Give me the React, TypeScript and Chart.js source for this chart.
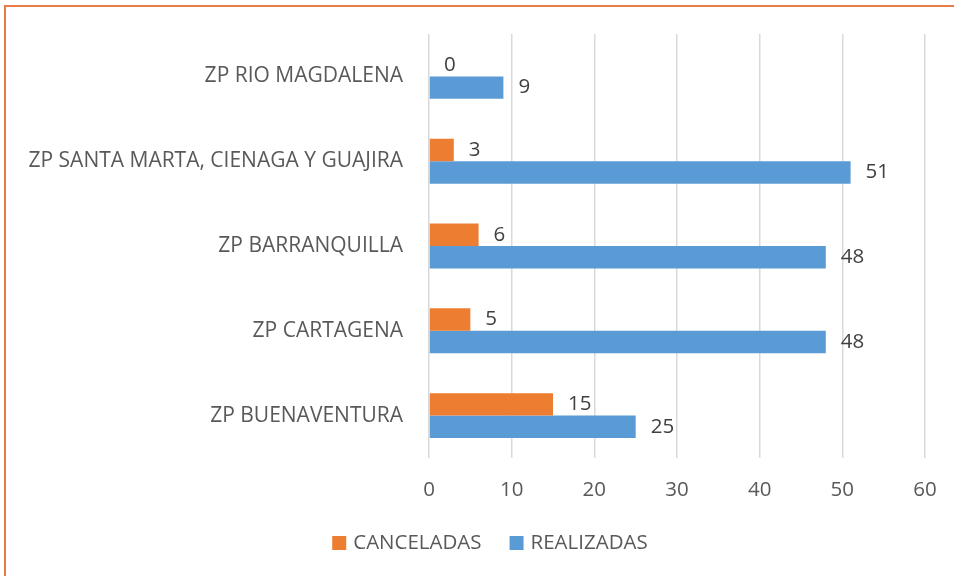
import React, { useEffect, useRef } from "react";
import { Chart, registerables } from "chart.js";

Chart.register(...registerables);

const categories = [
  "ZP RIO MAGDALENA",
  "ZP SANTA MARTA, CIENAGA Y GUAJIRA",
  "ZP BARRANQUILLA",
  "ZP CARTAGENA",
  "ZP BUENAVENTURA",
];
const canceladas = [0, 3, 6, 5, 15];
const realizadas = [9, 51, 48, 48, 25];
const xTicks = [0, 10, 20, 30, 40, 50, 60];

const FONT = "'Open Sans', 'Noto Sans', sans-serif";
const FS = 20.5;

const framePlugin = {
  id: "frame",
  beforeDraw(chart: any) {
    const ctx = chart.ctx;
    ctx.save();
    ctx.fillStyle = "#ffffff";
    ctx.fillRect(0, 0, chart.width, chart.height);
    ctx.strokeStyle = "#E97C45";
    ctx.lineWidth = 2;
    ctx.beginPath();
    ctx.moveTo(5, chart.height);
    ctx.lineTo(5, 6);
    ctx.lineTo(chart.width, 6);
    ctx.stroke();
    ctx.restore();
  },
};

const valueLabels = {
  id: "valueLabels",
  afterDatasetsDraw(chart: any) {
    const ctx = chart.ctx;
    ctx.save();
    ctx.font = `${FS}px ${FONT}`;
    ctx.fillStyle = "#404040";
    ctx.textAlign = "left";
    ctx.textBaseline = "middle";
    chart.data.datasets.forEach((ds: any, i: number) => {
      const meta = chart.getDatasetMeta(i);
      meta.data.forEach((bar: any, j: number) => {
        ctx.fillText(String(ds.data[j]), bar.x + 15, bar.y);
      });
    });
    ctx.restore();
  },
};

const customLegend = {
  id: "customLegend",
  afterDraw(chart: any) {
    const ctx = chart.ctx;
    ctx.save();
    ctx.font = `${FS}px ${FONT}`;
    ctx.textBaseline = "middle";
    ctx.textAlign = "left";
    const box = 14;
    const gap = 7;
    const itemGap = 28;
    const items = chart.data.datasets.map((ds: any) => ({
      label: ds.label,
      color: ds.backgroundColor,
      w: box + gap + ctx.measureText(ds.label).width,
    }));
    const total =
      items.reduce((s: number, it: any) => s + it.w, 0) + itemGap * (items.length - 1);
    let x = chart.width / 2 + 13 - total / 2;
    const y = 543;
    items.forEach((it: any) => {
      ctx.fillStyle = it.color;
      ctx.fillRect(x, y - box / 2, box, box);
      ctx.fillStyle = "#595959";
      ctx.fillText(it.label, x + box + gap, y);
      x += it.w + itemGap;
    });
    ctx.restore();
  },
};

export default function App() {
  const ref = useRef<HTMLCanvasElement>(null);
  useEffect(() => {
    if (!ref.current) return;
    const chart = new Chart(ref.current, {
      type: "bar",
      data: {
        labels: categories,
        datasets: [
          {
            label: "CANCELADAS",
            data: canceladas,
            backgroundColor: "#ED7D31",
            categoryPercentage: 0.53,
            barPercentage: 1,
          },
          {
            label: "REALIZADAS",
            data: realizadas,
            backgroundColor: "#5B9BD5",
            categoryPercentage: 0.53,
            barPercentage: 1,
          },
        ],
      },
      options: {
        indexAxis: "y",
        animation: false,
        responsive: false,
        maintainAspectRatio: false,
        layout: { padding: { top: 34, right: 29, left: 0, bottom: 56 } },
        scales: {
          x: {
            min: 0,
            max: 60,
            afterBuildTicks(scale: any) {
              scale.ticks = xTicks.map((v) => ({ value: v }));
            },
            grid: {
              color: "#D9D9D9",
              lineWidth: 1.5,
              drawTicks: true,
              tickLength: 16,
              tickColor: "rgba(0,0,0,0)",
            },
            border: { display: false },
            ticks: {
              color: "#595959",
              font: { family: FONT, size: FS },
              padding: 4,
            },
            afterFit(scale: any) {
              scale.height = 62;
            },
          },
          y: {
            grid: { display: false, drawTicks: false },
            border: { display: false },
            ticks: {
              color: "#595959",
              font: { family: FONT, size: 21 },
              padding: 26,
            },
            afterFit(scale: any) {
              scale.width = 429;
              scale.paddingTop = 0;
              scale.paddingBottom = 0;
            },
          },
        },
        plugins: {
          legend: { display: false },
          tooltip: { enabled: false },
        },
      },
      plugins: [framePlugin, valueLabels, customLegend],
    } as any);
    return () => chart.destroy();
  }, []);
  return (
    <div style={{ position: "fixed", left: 0, top: 0, width: 954, height: 576 }}>
      <canvas ref={ref} width={954} height={576} style={{ display: "block" }} />
    </div>
  );
}
